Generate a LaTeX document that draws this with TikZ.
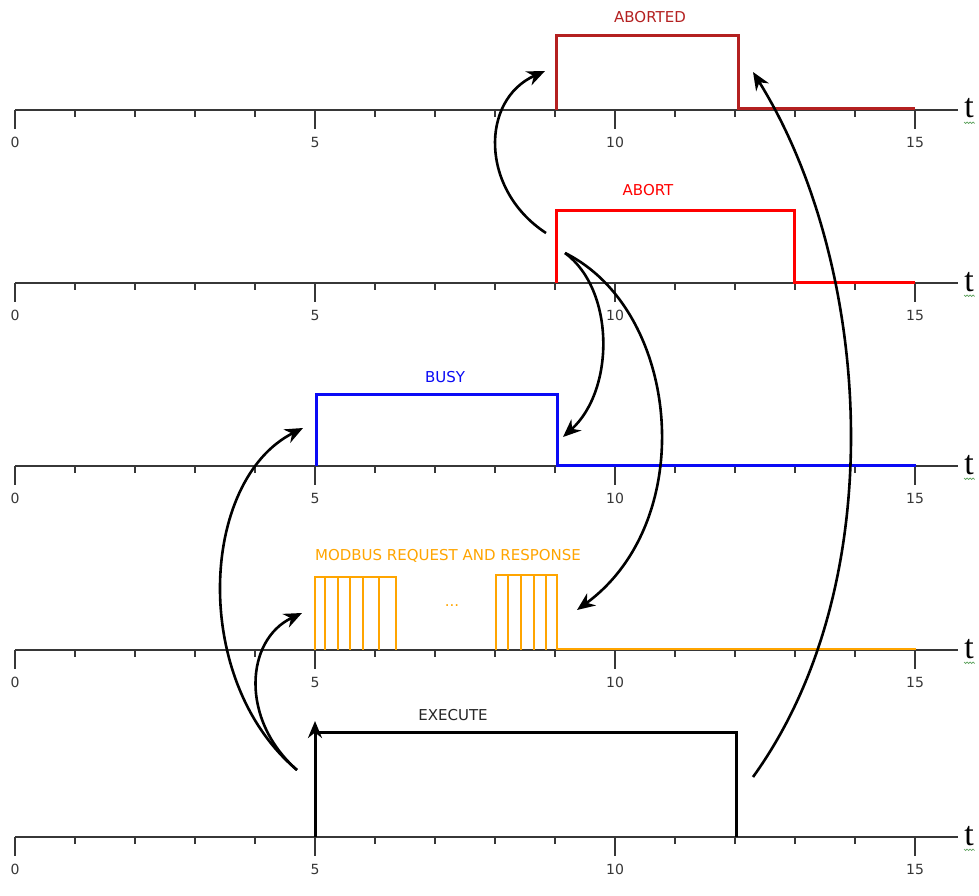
\documentclass[tikz,border=0pt]{standalone}
\usepackage{fontspec}
\setmainfont{DejaVu Sans}
\newfontfamily\tfont{Liberation Serif}
\usetikzlibrary{arrows.meta}
\definecolor{axisgray}{RGB}{55,55,55}
\definecolor{cAborted}{RGB}{180,32,32}
\definecolor{cAbort}{RGB}{255,0,0}
\definecolor{cBusy}{RGB}{10,10,245}
\definecolor{cModbus}{RGB}{255,165,0}
\definecolor{squig}{RGB}{90,160,90}
\begin{document}
\begin{tikzpicture}[x=1pt,y=-1pt,
  axisline/.style={draw=axisgray, line width=1.7pt},
  sig/.style={line width=3pt, line join=miter},
  pulse/.style={line width=2.4pt, line join=miter, draw=cModbus},
  conn/.style={draw=black, line width=2.6pt, -{Stealth[length=18pt,width=15pt]}},
  lbl/.style={font=\fontsize{15}{17}\selectfont, inner sep=0pt},
  num/.style={font=\fontsize{14}{16}\selectfont, text=axisgray, inner sep=0pt},
  tlbl/.style={font=\tfont\fontsize{34}{36}\selectfont, inner sep=0pt, anchor=base}]
\useasboundingbox (0,0) rectangle (979,896);
\fill[white] (0,0) rectangle (979,896);

% axes
\foreach \ay/\nm in {110/a,283/b,466/c,650/d,837/e}{
  \draw[axisline] (15,\ay) -- (958,\ay);
  \foreach \i in {0,...,15}{
    \pgfmathtruncatemacro{\md}{mod(\i,5)}
    \ifnum\md=0
      \draw[axisline] ({15+60*\i},\ay) -- ({15+60*\i},\ay+19);
      \node[num] (n\nm\i) at ({15+60*\i},\ay+32) {\i};
    \else
      \draw[axisline] ({15+60*\i},\ay) -- ({15+60*\i},\ay+7);
    \fi
  }
  \node[tlbl] (t\nm) at (969,\ay+8) {t};
  \draw[squig, line width=0.7pt] (964,\ay+12) -- (965.5,\ay+13.5) -- (967,\ay+12) -- (968.5,\ay+13.5) -- (970,\ay+12) -- (971.5,\ay+13.5) -- (973,\ay+12) -- (974.5,\ay+13.5);
}

% ABORTED
\draw[sig, draw=cAborted] (556,110) -- (556,36) -- (738,36) -- (738,109) -- (915,109);
\node[lbl, text=cAborted] (lAborted) at (650,17) {ABORTED};

% ABORT
\draw[sig, draw=cAbort] (556,283) -- (556,210) -- (794,210) -- (794,282) -- (915,282);
\node[lbl, text=cAbort] (lAbort) at (648,190) {ABORT};

% BUSY
\draw[sig, draw=cBusy] (316,466) -- (316,394) -- (557,394) -- (557,465) -- (916,465);
\node[lbl, text=cBusy] (lBusy) at (445,377) {BUSY};

% MODBUS
\draw[pulse] (315,650) -- (315,577) -- (396,577) -- (396,650);
\foreach \px in {325,338,350,363,379}{ \draw[pulse] (\px,577) -- (\px,650); }
\draw[pulse] (496,650) -- (496,575) -- (557,575) -- (557,649) -- (916,649);
\foreach \px in {508,521,534,546}{ \draw[pulse] (\px,575) -- (\px,650); }
\node[lbl, text=cModbus] (lModbus) at (448,556) {MODBUS REQUEST AND RESPONSE};
\node[lbl, text=cModbus] (lDots) at (452,606) {...};

% EXECUTE
\draw[sig, draw=black] (315,732) -- (736,732) -- (736,837);
\coordinate (exBase) at (315,837);
\coordinate (exTop) at (315,721);
\draw[line width=3pt, -{Stealth[length=17pt,width=14pt]}] (exBase) -- (exTop);
\node[lbl, text=black!85] (lExecute) at (453,715) {EXECUTE};

% connectors
\coordinate (a1s) at (546,233); \coordinate (a1e) at (545,71);
\draw[conn] (a1s) .. controls (480,190) and (480,100) .. (a1e);
\coordinate (a2s) at (565,253); \coordinate (a2e) at (563,437);
\draw[conn] (a2s) .. controls (615,290) and (615,390) .. (a2e);
\coordinate (a3e) at (577,610);
\draw[conn] (a2s) .. controls (680,310) and (700,520) .. (a3e);
\coordinate (a4s) at (753,777); \coordinate (a4e) at (753,72);
\draw[conn] (a4s) .. controls (895,580) and (870,260) .. (a4e);
\coordinate (a5s) at (297,770); \coordinate (a5e) at (303,428);
\draw[conn] (a5s) .. controls (190,680) and (200,480) .. (a5e);
\coordinate (a6e) at (302,613);
\draw[conn] (a5s) .. controls (240,720) and (245,640) .. (a6e);
\end{tikzpicture}
\end{document}
